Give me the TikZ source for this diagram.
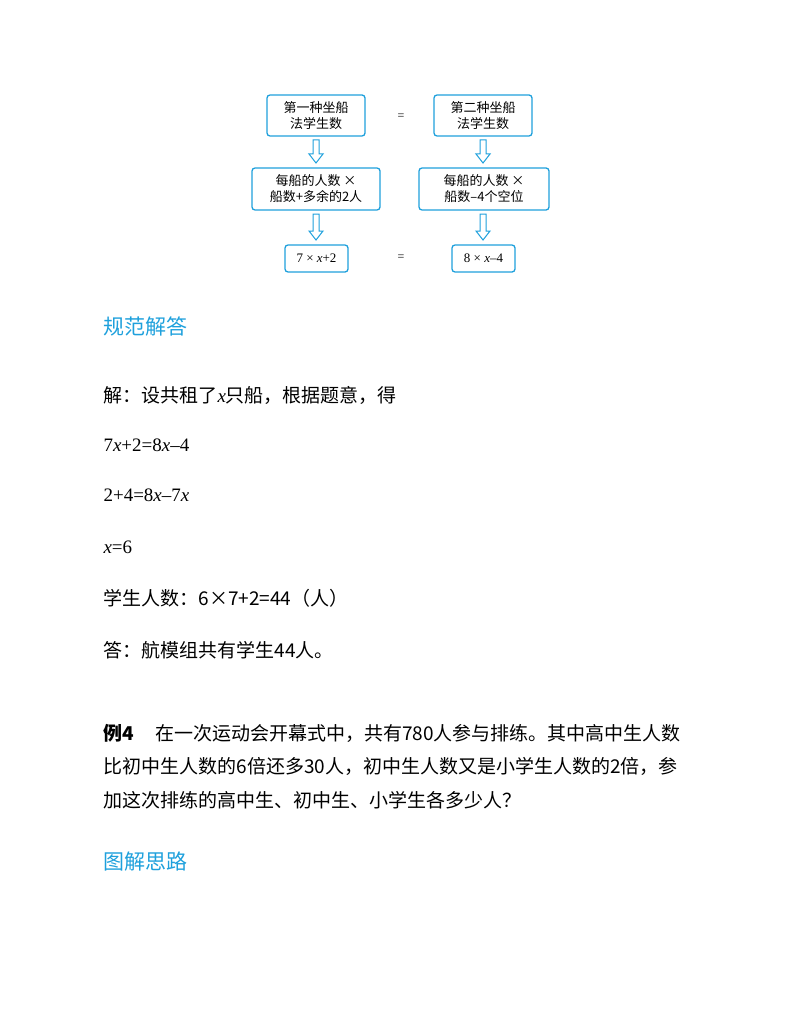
\documentclass[tikz,border=0pt]{standalone}
\usepackage{fontspec}
\setmainfont{Liberation Serif}
\newfontfamily\cjk{Noto Sans CJK SC}
\definecolor{bl}{RGB}{30,160,220}
\newcommand{\vx}{{\rmfamily\itshape x}}
\begin{document}
\begin{tikzpicture}[x=1pt,y=-1pt,
  bx/.style={draw=bl,line width=1.3pt,rounded corners=3pt,inner sep=0pt,align=center,font=\cjk\fontsize{13}{16}\selectfont},
  eq/.style={font=\fontsize{12}{14}\selectfont},
  body/.style={anchor=west,font=\cjk\fontsize{19}{22}\selectfont},
  head/.style={anchor=west,text=bl,font=\cjk\fontsize{21}{25}\selectfont}]
\useasboundingbox (0,0) rectangle (800,1035);
\def\barr#1#2#3{\draw[bl,line width=1pt,fill=white,line join=miter] (#1-3,#2) -- (#1+3,#2) -- (#1+3,#3-9) -- (#1+7,#3-9) -- (#1,#3) -- (#1-7,#3-9) -- (#1-3,#3-9) -- cycle;}
\node[bx,minimum width=98pt,minimum height=41pt] (a1) at (316,115.5) {第一种坐船\\法学生数};
\node[bx,minimum width=98pt,minimum height=41pt] (a2) at (483,115.5) {第二种坐船\\法学生数};
\node[bx,minimum width=128pt,minimum height=42pt] (b1) at (316,189) {每船的人数 ×\\船数+多余的2人};
\node[bx,minimum width=130pt,minimum height=42pt] (b2) at (484,189) {每船的人数 ×\\船数–4个空位};
\node[bx,minimum width=63pt,minimum height=27pt,font=\fontsize{13}{15}\selectfont] (c1) at (316.5,258.5) {7 × \textit{x}+2};
\node[bx,minimum width=63pt,minimum height=27pt,font=\fontsize{13}{15}\selectfont] (c2) at (483.5,258.5) {8 × \textit{x}–4};
\node[eq] (e1) at (401,117) {=};
\node[eq] (e2) at (401,258) {=};
\barr{316}{140}{163}
\barr{483}{140}{163}
\barr{316}{214}{240}
\barr{483}{214}{240}
\node[head] (h1) at (100,327) {规范解答};
\node[body] (l1) at (100,395) {解：设共租了\vx 只船，根据题意，得};
\node[body,font=\fontsize{19}{22}\selectfont] (l2) at (100,445) {7\textit{x}+2=8\textit{x}–4};
\node[body,font=\fontsize{19}{22}\selectfont] (l3) at (100,495) {2+4=8\textit{x}–7\textit{x}};
\node[body,font=\fontsize{19}{22}\selectfont] (l4) at (100,547) {\textit{x}=6};
\node[body] (l5) at (100,598) {学生人数：6×7+2=44（人）};
\node[body] (l6) at (100,650) {答：航模组共有学生44人。};
\node[body] (p1) at (100,733) {\textbf{例4}\hspace{1.1em}在一次运动会开幕式中，共有780人参与排练。其中高中生人数};
\node[body] (p2) at (100,766) {比初中生人数的6倍还多30人，初中生人数又是小学生人数的2倍，参};
\node[body] (p3) at (100,800) {加这次排练的高中生、初中生、小学生各多少人？};
\node[head] (h2) at (100,862) {图解思路};
\end{tikzpicture}
\end{document}
